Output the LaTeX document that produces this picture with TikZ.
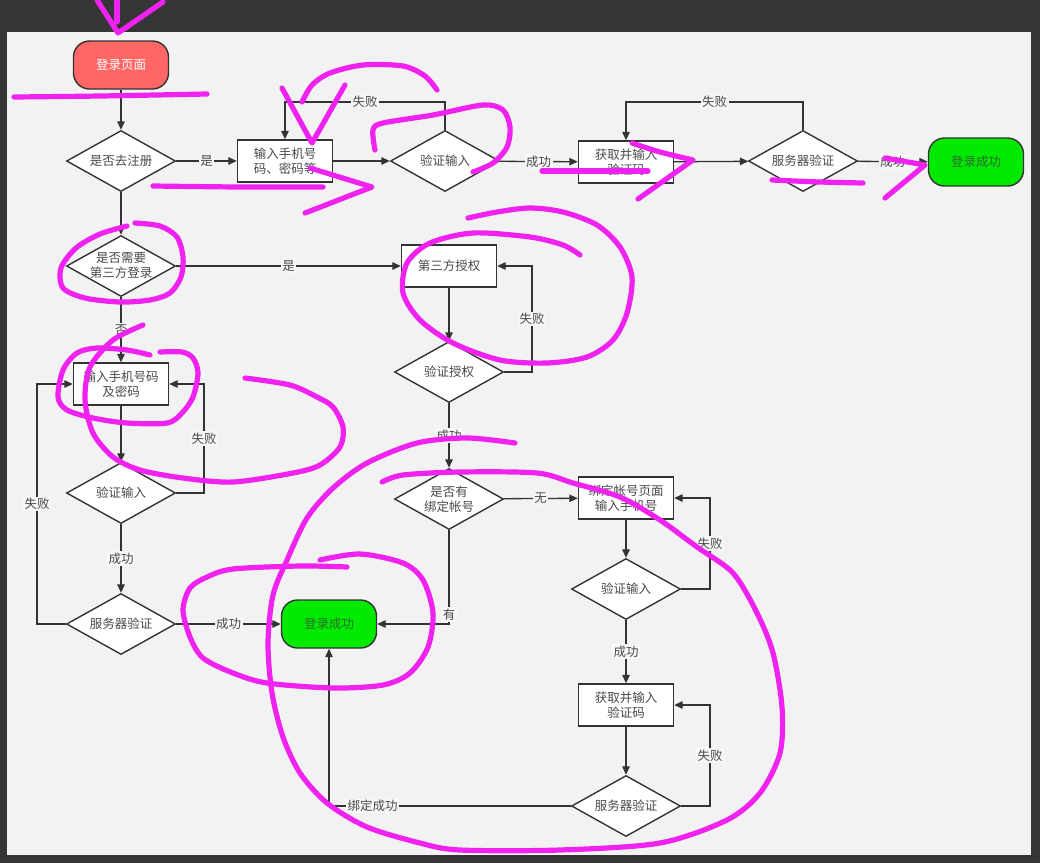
\documentclass[tikz,border=0pt]{standalone}
\usepackage{fontspec}
\setmainfont{Noto Sans CJK SC}
\usetikzlibrary{shapes.geometric,arrows.meta}
\definecolor{bgdark}{HTML}{353535}
\definecolor{canvas}{HTML}{F2F2F2}
\definecolor{lblbg}{HTML}{F7F7F7}
\definecolor{ln}{HTML}{333333}
\definecolor{txt}{HTML}{4A4A4A}
\definecolor{startred}{HTML}{FF6666}
\definecolor{okgreen}{HTML}{00EA00}
\definecolor{oktext}{HTML}{2E6B2E}
\definecolor{magentapen}{HTML}{F022F0}
\newcommand\nodefont{\fontsize{12.5}{15}\selectfont}
\tikzset{
  base/.style={draw=ln, line width=1.4pt, text=txt, font=\nodefont, align=center, inner sep=2pt},
  procbox/.style={base, rectangle, fill=white, minimum width=95pt, minimum height=42pt},
  dtext/.style={text=txt, font=\nodefont, align=center, inner sep=0pt},
  dia/.style={base, diamond, fill=white, minimum width=109pt, minimum height=61pt, inner sep=0pt, label={[dtext]center:#1}},
  term/.style={base, rectangle, rounded corners=16pt, minimum width=95pt, minimum height=48pt},
  flow/.style={draw=ln, line width=1.3pt, -{Triangle[length=8.5pt,width=7.5pt]}},
  lbl/.style={fill=lblbg, inner sep=1.5pt, text=txt, font=\nodefont},
  penstroke/.style={draw=magentapen, line width=5.2pt, line cap=round, line join=round},
}
\begin{document}
\begin{tikzpicture}[x=1pt,y=-1pt]
\useasboundingbox (0,0) rectangle (1040,863);
\fill[bgdark] (0,0) rectangle (1040,863);
\fill[canvas] (7,32) rectangle (1031,855);

% top row
\node[term, fill=startred, text=white] (start) at (121,65) {登录页面};
\node[dia={是否去注册}] (q1) at (121,161) {};
\node[procbox] (reg) at (285,161) {输入手机号\\码、密码等};
\node[dia={验证输入}] (v1) at (445,161) {};
\node[procbox] (code1) at (626,162) {获取并输入\\验证码};
\node[dia={服务器验证}] (srv1) at (803,161) {};
\node[term, fill=okgreen, text=oktext] (ok1) at (976,162) {登录成功};

% left column
\node[dia={是否需要\\第三方登录}] (q2) at (121,266) {};
\node[procbox] (pw) at (121,384) {输入手机号码\\及密码};
\node[dia={验证输入}] (v2) at (121,493) {};
\node[dia={服务器验证}] (srv2) at (121,624) {};
\node[term, fill=okgreen, text=oktext] (ok2) at (329,624) {登录成功};

% third party
\node[procbox] (auth) at (449,266) {第三方授权};
\node[dia={验证授权}] (va) at (449,372) {};
\node[dia={是否有\\绑定帐号}] (bind) at (449,499) {};
\node[procbox] (bp) at (626,498) {绑定帐号页面\\输入手机号};
\node[dia={验证输入}] (v3) at (626,589) {};
\node[procbox] (code2) at (626,705) {获取并输入\\验证码};
\node[dia={服务器验证}] (srv3) at (626,806) {};

% connectors top row
\draw[flow] (start) -- (q1);
\draw[flow] (q1) -- node[lbl]{是} (reg);
\draw[flow] (reg) -- (v1);
\draw[flow] (v1) -- node[lbl]{成功} (code1);
\draw[flow] (code1) -- (srv1);
\draw[flow] (srv1) -- node[lbl]{成功} (ok1);
\draw[flow] (v1.north) -- (v1.north |- 0,102) -- node[lbl]{失败} (reg.north |- 0,102) -- (reg.north);
\draw[flow] (srv1.north) -- (srv1.north |- 0,102) -- node[lbl]{失败} (code1.north |- 0,102) -- (code1.north);

% left column connectors
\draw[flow] (q1) -- (q2);
\draw[flow] (q2) -- node[lbl]{是} (auth);
\draw[flow] (q2) -- node[lbl]{否} (pw);
\draw[flow] (pw) -- (v2);
\draw[flow] (v2.east) -- (204,493) -- node[lbl]{失败} (204,384) -- (pw.east);
\draw[flow] (v2) -- node[lbl]{成功} (srv2);
\draw[flow] (srv2.west) -- (37,624) -- node[lbl]{失败} (37,384) -- (pw.west);
\draw[flow] (srv2) -- node[lbl]{成功} (ok2);

% third party connectors
\draw[flow] (auth) -- (va);
\draw[flow] (va.east) -- (532,372) -- node[lbl]{失败} (532,266) -- (auth.east);
\draw[flow] (va) -- node[lbl]{成功} (bind);
\draw[flow] (bind.south) |- node[lbl, pos=0.45]{有} (ok2.east);
\draw[flow] (bind) -- node[lbl]{无} (bp);
\draw[flow] (bp) -- (v3);
\draw[flow] (v3.east) -- (710,589) -- node[lbl]{失败} (710,498) -- (bp.east);
\draw[flow] (v3) -- node[lbl]{成功} (code2);
\draw[flow] (code2) -- (srv3);
\draw[flow] (srv3.east) -- (710,806) -- node[lbl]{失败} (710,705) -- (code2.east);
\draw[flow] (srv3.west) -| node[lbl, pos=0.41]{绑定成功} (ok2.south);

% magenta annotations
\draw[penstroke] (97,0) -- (118,33) -- (163,2);
\draw[penstroke] (117,0) -- (117,22);
\draw[penstroke] plot[smooth] coordinates {(14,97) (100,96) (207,94)};
\draw[penstroke] (282,88) -- (312,143) -- (345,85);
\draw[penstroke] plot[smooth] coordinates {(302,102) (312,85) (330,73) (363,65) (403,66) (425,76) (437,90)};
\draw[penstroke] plot[smooth] coordinates {(153,186) (240,187) (323,187)};
\draw[penstroke] (310,168) -- (372,187) -- (305,213);
\draw[penstroke] plot[smooth] coordinates {(375,150) (373,130) (383,123) (433,115) (483,105) (503,110) (510,127) (507,147) (493,163) (473,172)};
\draw[penstroke] (542,171) -- (648,171);
\draw[penstroke] plot[smooth] coordinates {(632,143) (660,152) (693,160)} -- (638,199);
\draw[penstroke] plot[smooth] coordinates {(772,180) (820,182) (863,183)};
\draw[penstroke] (885,158) -- (925,165) -- (885,198);
\draw[penstroke] plot[smooth] coordinates {(135,223) (160,226) (177,237) (183,257) (181,277) (170,293) (150,300) (120,302) (85,298) (63,288) (61,268) (76,248) (100,234) (127,226)};
\draw[penstroke] plot[smooth] coordinates {(143,325) (113,340) (90,367) (85,400) (93,433) (113,457) (140,470) (183,478) (233,482) (293,473) (320,465) (340,447) (343,427) (333,407) (317,397) (290,385) (245,378)};
\draw[penstroke] plot[smooth] coordinates {(150,355) (127,350) (97,348) (77,353) (63,370) (58,397) (67,410) (93,418) (127,423) (167,423) (182,413) (193,397) (198,373) (193,358) (182,352) (160,352)};
\draw[penstroke] plot[smooth] coordinates {(468,218) (497,212) (530,208) (563,212) (597,225) (620,247) (632,277) (627,313) (613,340) (587,357) (547,363) (500,360) (453,343) (420,320) (403,293) (407,263) (430,243) (473,233) (530,237) (563,245) (580,255)};
\draw[penstroke] plot[smooth] coordinates {(515,443) (467,438) (417,443) (367,463) (333,488) (307,518) (287,560) (273,595) (268,643) (272,693) (283,737) (300,773) (327,803) (367,827) (420,843) (460,850) (560,850) (660,843) (727,820) (760,793) (780,753) (782,707) (773,653) (757,613) (733,573) (697,547) (660,520) (620,497) (573,483) (537,473) (460,472) (403,475) (382,482)};
\draw[penstroke] plot[smooth] coordinates {(347,567) (300,566) (233,569) (207,577) (190,588) (183,610) (190,637) (203,658) (233,673) (267,683) (333,688) (383,685) (410,673) (428,647) (433,613) (423,580) (403,563) (360,554) (320,560)};
\end{tikzpicture}
\end{document}
